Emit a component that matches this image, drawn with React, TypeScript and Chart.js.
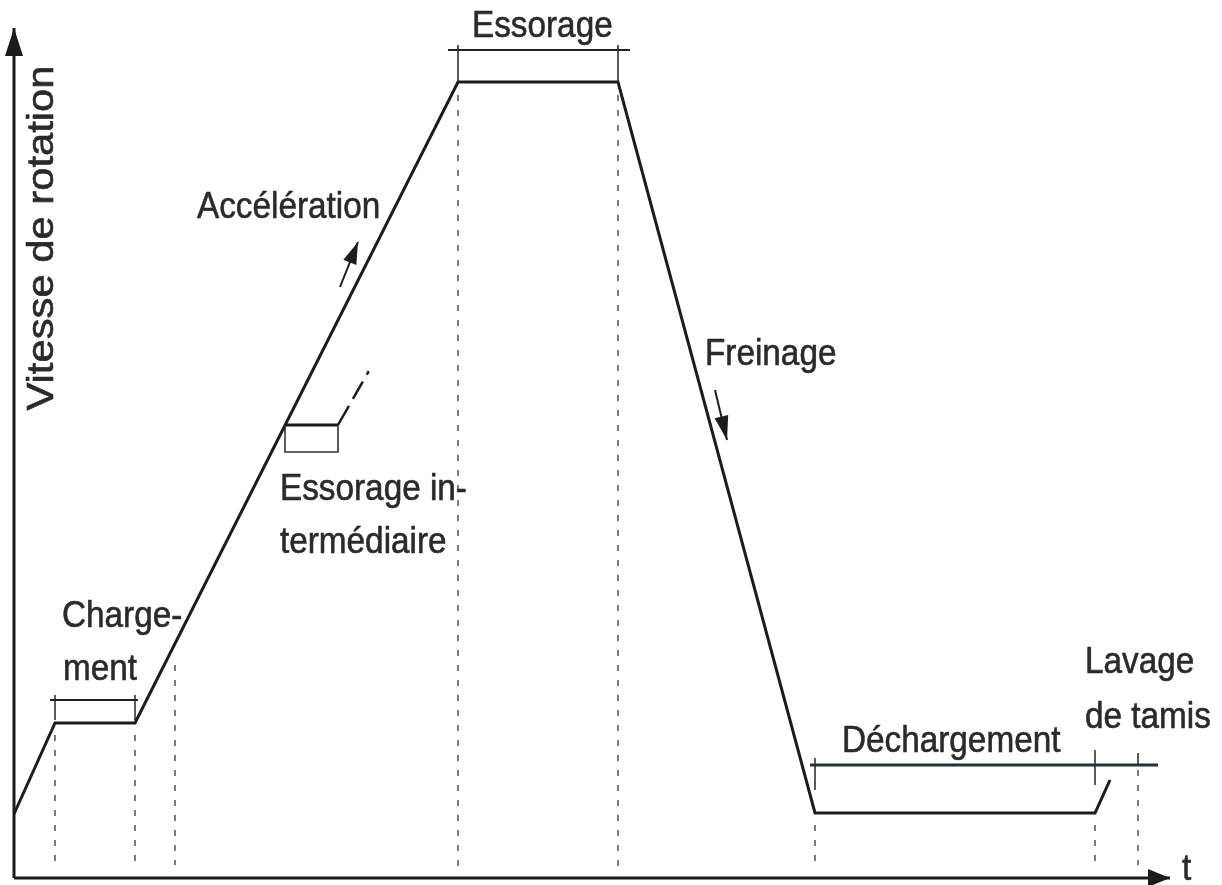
import React, { useEffect, useRef } from "react";
import { Chart, registerables } from "chart.js";

Chart.register(...registerables);

// Main speed profile (time units, speed units)
const curveTime = [0, 41, 121, 444, 604, 801, 1081, 1096];
const curveSpeed = [64, 155, 155, 796, 796, 65, 65, 98];

// Intermediate spin branch
const interTime = [271, 324];
const interSpeed = [453, 453];
const interDashTime = [324, 364];
const interDashSpeed = [453, 523];
const interBoxTime = [271, 271, 324, 324];
const interBoxSpeed = [453, 426, 426, 453];

// Phase brackets: [tStart, tEnd, level]
const bracketNames = ["Chargement", "Essorage", "Déchargement"];
const bracketStart = [36, 434, 796];
const bracketEnd = [124, 616, 1144];
const bracketLevel = [178, 828, 113];
// Bracket ticks
const tickTime = [41, 121, 444, 604, 801, 1081, 1124];
const tickTop = [183, 183, 833, 833, 120, 128, 125];
const tickBottom = [158, 158, 796, 796, 88, 93, 113];

// Dashed guides
const guideTime = [41, 121, 161, 444, 604, 801, 1081, 1124];
const guideTop = [143, 143, 213, 783, 783, 53, 53, 123];
const guideBottom = [8, 8, 13, 8, 8, 8, 8, 13];

// Axes
const yAxisTime = [0, 0];
const yAxisSpeed = [0, 850];
const xAxisTime = [0, 1156];
const xAxisSpeed = [0, 0];

// Small direction arrows
const accelArrowTime = [326, 344];
const accelArrowSpeed = [591, 636];
const brakeArrowTime = [701, 713];
const brakeArrowSpeed = [488, 438];

// Labels
const labelTexts = [
  "Accélération",
  "Essorage",
  "Freinage",
  "Essorage in-",
  "termédiaire",
  "Charge-",
  "ment",
  "Déchargement",
  "Lavage",
  "de tamis",
  "t",
];
const labelTime = [183, 458, 691, 266, 266, 48, 49, 828, 1071, 1071, 1168];
const labelSpeed = [660, 841, 513, 378, 325, 251, 198, 126, 205, 150, -2];
const yTitle = "Vitesse de rotation";
const yTitleTime = 39;
const yTitleSpeed = 640;

const INK = "#1c1c1c";

function pts(ts: number[], vs: number[]) {
  return ts.map((t, i) => ({ x: t, y: vs[i] }));
}

function lineDs(data: any[], opts: any = {}) {
  return {
    data,
    showLine: true,
    pointRadius: 0,
    pointHoverRadius: 0,
    borderColor: INK,
    borderWidth: 2,
    tension: 0,
    fill: false,
    clip: false,
    ...opts,
  };
}

const arrowPlugin = {
  id: "arrowHeads",
  afterDatasetsDraw(chart: any) {
    const ctx = chart.ctx;
    chart.data.datasets.forEach((ds: any, i: number) => {
      if (!ds.arrow) return;
      const meta = chart.getDatasetMeta(i);
      const n = meta.data.length;
      const a = meta.data[n - 2];
      const b = meta.data[n - 1];
      const ang = Math.atan2(b.y - a.y, b.x - a.x);
      const { len, half } = ds.arrow;
      ctx.save();
      ctx.translate(b.x, b.y);
      ctx.rotate(ang);
      ctx.beginPath();
      ctx.moveTo(0, 0);
      ctx.lineTo(-len, -half);
      ctx.lineTo(-len, half);
      ctx.closePath();
      ctx.fillStyle = INK;
      ctx.fill();
      ctx.restore();
    });
  },
};

const labelPlugin = {
  id: "labels",
  afterDraw(chart: any) {
    const ctx = chart.ctx;
    const xs = chart.scales.x;
    const ys = chart.scales.y;
    ctx.save();
    ctx.fillStyle = "#2a2a2a";
    ctx.strokeStyle = "#2a2a2a";
    ctx.lineWidth = 0.6;
    ctx.lineJoin = "round";
    ctx.font = '37px "Liberation Sans", Arial, Helvetica, sans-serif';
    ctx.textBaseline = "alphabetic";
    ctx.textAlign = "left";
    labelTexts.forEach((txt, i) => {
      const px = xs.getPixelForValue(labelTime[i]);
      const py = ys.getPixelForValue(labelSpeed[i]);
      ctx.save();
      ctx.translate(px, py);
      ctx.scale(0.9, 1);
      ctx.fillText(txt, 0, 0);
      ctx.strokeText(txt, 0, 0);
      ctx.restore();
    });
    // vertical axis title
    const px = xs.getPixelForValue(yTitleTime);
    const py = ys.getPixelForValue(yTitleSpeed);
    ctx.save();
    ctx.translate(px, py);
    ctx.rotate(-Math.PI / 2);
    ctx.scale(1.16, 1);
    ctx.font = '36px "Liberation Sans", Arial, Helvetica, sans-serif';
    ctx.textAlign = "center";
    ctx.fillText(yTitle, 0, 0);
    ctx.strokeText(yTitle, 0, 0);
    ctx.restore();
    ctx.restore();
  },
};

export default function App() {
  const ref = useRef<HTMLCanvasElement>(null);

  useEffect(() => {
    document.body.style.margin = "0";
    const datasets: any[] = [];

    // dashed guides
    guideTime.forEach((t, i) => {
      datasets.push(
        lineDs(pts([t, t], [guideTop[i], guideBottom[i]]), {
          borderColor: "#5a5a5a",
          borderWidth: 1.6,
          borderDash: [6, 9],
        })
      );
    });

    // axes
    datasets.push(
      lineDs(pts(yAxisTime, yAxisSpeed), {
        borderWidth: 3,
        arrow: { len: 28, half: 9 },
      })
    );
    datasets.push(
      lineDs(pts(xAxisTime, xAxisSpeed), {
        borderWidth: 3,
        arrow: { len: 22, half: 9 },
      })
    );

    // main curve
    datasets.push(lineDs(pts(curveTime, curveSpeed), { borderWidth: 3 }));

    // intermediate branch
    datasets.push(lineDs(pts(interTime, interSpeed), { borderWidth: 3 }));
    datasets.push(
      lineDs(pts(interDashTime, interDashSpeed), {
        borderWidth: 2.5,
        borderDash: [22, 8, 20, 8, 4, 20],
      })
    );
    datasets.push(
      lineDs(pts(interBoxTime, interBoxSpeed), {
        borderWidth: 1.6,
        borderColor: "#333",
      })
    );

    // brackets
    bracketNames.forEach((name, i) => {
      datasets.push(
        lineDs(
          pts([bracketStart[i], bracketEnd[i]], [bracketLevel[i], bracketLevel[i]]),
          {
            label: name,
            borderWidth: i === 2 ? 3 : 2.2,
            borderColor: i === 2 ? "#1f3438" : "#222",
          }
        )
      );
    });
    tickTime.forEach((t, i) => {
      datasets.push(
        lineDs(pts([t, t], [tickTop[i], tickBottom[i]]), {
          borderWidth: 1.6,
          borderColor: "#333",
        })
      );
    });

    // direction arrows
    datasets.push(
      lineDs(pts(accelArrowTime, accelArrowSpeed), {
        borderWidth: 2,
        arrow: { len: 22, half: 7 },
      })
    );
    datasets.push(
      lineDs(pts(brakeArrowTime, brakeArrowSpeed), {
        borderWidth: 2,
        arrow: { len: 24, half: 7 },
      })
    );

    const chart = new Chart(ref.current as HTMLCanvasElement, {
      type: "scatter",
      data: { datasets },
      options: {
        animation: false,
        responsive: true,
        maintainAspectRatio: false,
        layout: { padding: 0 },
        plugins: {
          legend: { display: false },
          tooltip: { enabled: false },
        },
        events: [],
        scales: {
          x: { type: "linear", min: -14, max: 1208, display: false },
          y: { type: "linear", min: -7, max: 878, display: false },
        },
      } as any,
      plugins: [arrowPlugin, labelPlugin],
    });
    return () => chart.destroy();
  }, []);

  return (
    <div
      style={{
        position: "fixed",
        left: 0,
        top: 0,
        width: 1222,
        height: 885,
        background: "#ffffff",
      }}
    >
      <canvas ref={ref} />
    </div>
  );
}
